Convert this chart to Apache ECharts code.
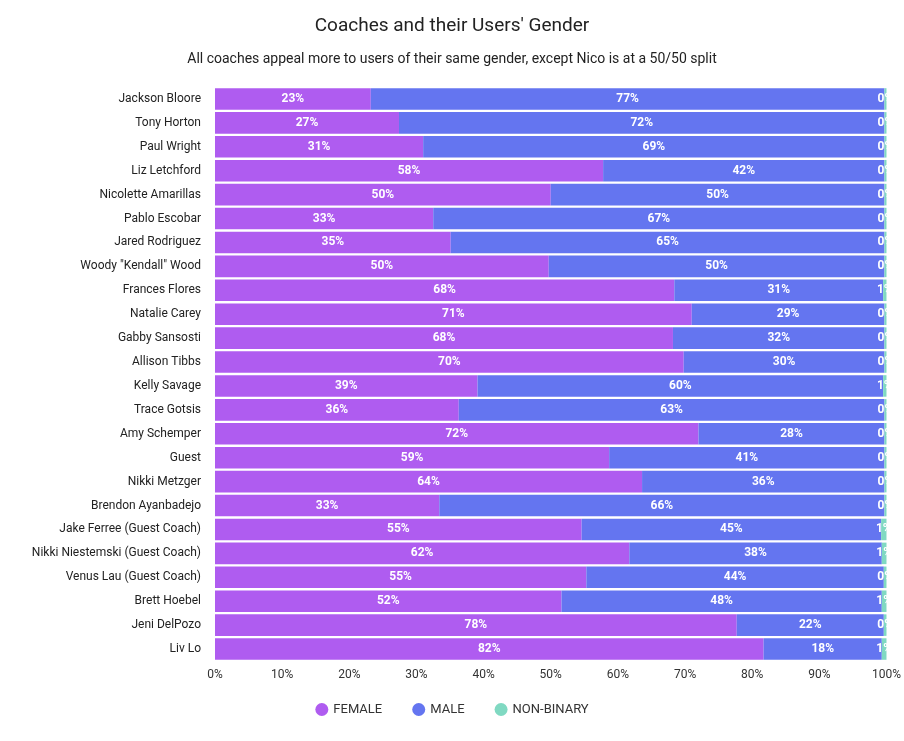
<!DOCTYPE html>
<html>
<head>
<meta charset="utf-8">
<script src="https://cdn.jsdelivr.net/npm/echarts@6/dist/echarts.min.js"></script>
<style>html,body{margin:0;padding:0;background:#fff}#chart{width:904px;height:741px}</style>
</head>
<body>
<div id="chart"></div>
<script>
var coaches = ['Jackson Bloore','Tony Horton','Paul Wright','Liz Letchford','Nicolette Amarillas','Pablo Escobar','Jared Rodriguez','Woody "Kendall" Wood','Frances Flores','Natalie Carey','Gabby Sansosti','Allison Tibbs','Kelly Savage','Trace Gotsis','Amy Schemper','Guest','Nikki Metzger','Brendon Ayanbadejo','Jake Ferree (Guest Coach)','Nikki Niestemski (Guest Coach)','Venus Lau (Guest Coach)','Brett Hoebel','Jeni DelPozo','Liv Lo'];
var female = [23.2,27.4,31.0,57.8,50.0,32.5,35.1,49.7,68.4,71.0,68.2,69.8,39.1,36.3,72.0,58.7,63.6,33.4,54.6,61.7,55.3,51.6,77.7,81.7];
var male = [76.5,72.3,68.7,41.9,49.7,67.2,64.6,50.0,31.1,28.7,31.5,29.9,60.4,63.4,27.7,41.0,36.1,66.3,44.6,37.6,44.3,47.7,21.9,17.6];
var nonBinary = [0.3,0.3,0.3,0.3,0.3,0.3,0.3,0.3,0.5,0.3,0.3,0.3,0.5,0.3,0.3,0.3,0.3,0.3,0.8,0.7,0.4,0.7,0.4,0.7];

var chart = echarts.init(document.getElementById('chart'));
function mk(name, data, color) {
  return {
    name: name, type: 'bar', stack: 'total', data: data, barCategoryGap: '10%',
    itemStyle: { color: color },
    label: { show: true, color: '#fff', fontWeight: 'bold', fontSize: 12,
      formatter: function (p) { return Math.round(p.value) + '%'; } }
  };
}
chart.setOption({
  textStyle: { fontFamily: 'Roboto' },
  title: {
    text: "Coaches and their Users' Gender",
    subtext: 'All coaches appeal more to users of their same gender, except Nico is at a 50/50 split',
    left: 'center', top: 12, itemGap: 16,
    textStyle: { fontSize: 19, fontWeight: 'normal', color: '#222' },
    subtextStyle: { fontSize: 14, color: '#222' }
  },
  legend: { bottom: 20, icon: 'circle', itemWidth: 13, itemHeight: 13, itemGap: 30,
    textStyle: { fontSize: 13, color: '#333' } },
  grid: { left: 215, right: 17, top: 87, bottom: 80 },
  xAxis: { type: 'value', min: 0, max: 100, interval: 10,
    axisLabel: { formatter: '{value}%', color: '#333', fontSize: 12 },
    splitLine: { show: false }, axisLine: { show: false } },
  yAxis: { type: 'category', data: coaches, inverse: true,
    axisTick: { show: false }, axisLine: { show: false },
    axisLabel: { color: '#222', fontSize: 12, margin: 14 } },
  series: [
    mk('FEMALE', female, '#af5cf0'),
    mk('MALE', male, '#6475f0'),
    mk('NON-BINARY', nonBinary, '#80d9c2')
  ]
});
</script>
</body>
</html>
